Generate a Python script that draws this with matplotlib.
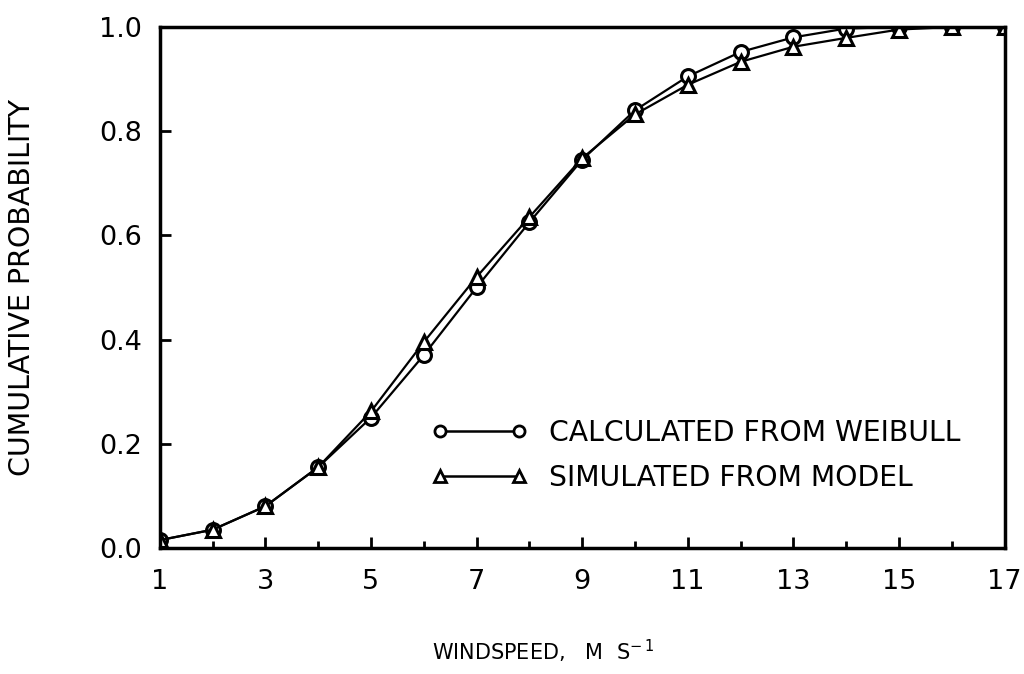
import numpy as np
import matplotlib
matplotlib.use('Agg')
import matplotlib.pyplot as plt

# wind speed (m/s) and cumulative probabilities
speed = [1, 2, 3, 4, 5, 6, 7, 8, 9, 10, 11, 12, 13, 14, 15, 16, 17]
weibull = [0.015, 0.035, 0.08, 0.155, 0.25, 0.37, 0.50, 0.625, 0.745, 0.84,
           0.905, 0.952, 0.98, 0.997, 1.0, 1.0, 1.0]
model = [0.015, 0.035, 0.08, 0.155, 0.262, 0.395, 0.52, 0.635, 0.748, 0.832,
         0.889, 0.933, 0.962, 0.979, 0.995, 1.0, 1.0]

plt.rcParams['font.family'] = ['DejaVu Sans']

fig = plt.figure(figsize=(10.24, 6.74), dpi=100)
ax = fig.add_axes([0.156, 0.187, 0.825, 0.773])

ax.plot(speed, weibull, color='black', lw=1.6, marker='o', ms=10,
        mfc='white', mec='black', mew=2.2, label='CALCULATED FROM WEIBULL')
ax.plot(speed, model, color='black', lw=1.6, marker='^', ms=9.5,
        mfc='white', mec='black', mew=2.2, label='SIMULATED FROM MODEL')

ax.set_xlim(1, 17)
ax.set_ylim(0, 1.0)
ax.set_xticks(range(1, 18, 2))
ax.set_xticks(range(2, 17, 2), minor=True)
ax.set_yticks(np.arange(0, 1.01, 0.2))
ax.set_yticklabels(['0.0', '0.2', '0.4', '0.6', '0.8', '1.0'])
ax.tick_params(which='major', direction='in', length=8, width=2, labelsize=19.5)
ax.tick_params(axis='x', which='major', pad=15)
ax.tick_params(axis='y', which='major', pad=13)
ax.tick_params(which='minor', direction='in', length=5, width=2)
for s in ax.spines.values():
    s.set_linewidth(2.5)

ax.set_ylabel('CUMULATIVE PROBABILITY', fontsize=20.5)
ax.yaxis.set_label_coords(-0.147, 0.5)
ax.set_xlabel('WINDSPEED,   M  S$^{-\\,1}$', fontsize=15, ha='left')
ax.xaxis.set_label_coords(0.322, -0.172)

leg = ax.legend(loc='upper left', bbox_to_anchor=(0.322, 0.248), frameon=False,
                numpoints=2, fontsize=20.3, handlelength=3.4, handletextpad=0.75,
                labelspacing=0.6, borderaxespad=0, borderpad=0)
for h in leg.legend_handles:
    h.set_markersize(8)
    h.set_markeredgewidth(2)
    h.set_linewidth(1.8)

fig.savefig('out.png', dpi=100)
